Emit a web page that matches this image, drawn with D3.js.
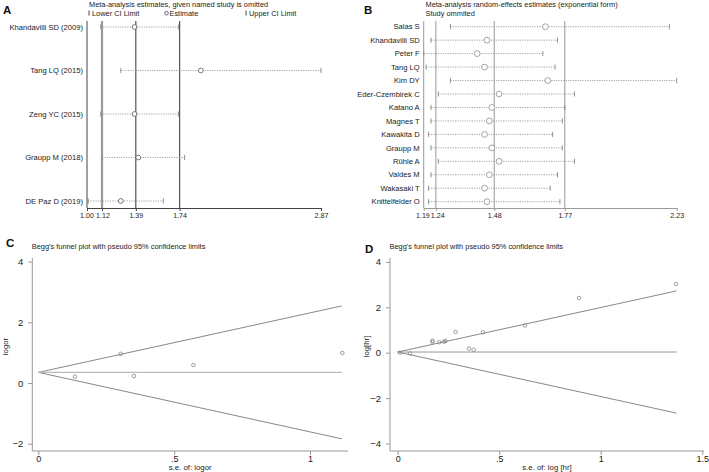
<!DOCTYPE html>
<html>
<head>
<meta charset="utf-8">
<script src="https://cdn.jsdelivr.net/npm/d3@7"></script>
<style>
  html, body { margin: 0; padding: 0; background: #fff; }
  svg { display: block; font-family: "Liberation Sans", Arial, sans-serif; }
</style>
</head>
<body>
<div id="chart"></div>
<script>
// ---- panel A: leave-one-out, given named study omitted
const studiesA = ["Khandavilli SD (2009)", "Tang LQ (2015)", "Zeng YC (2015)", "Graupp M (2018)", "DE Paz D (2019)"];
const lowerA = [1.11, 1.27, 1.11, 1.12, 1.01];
const estA = [1.38, 1.91, 1.38, 1.41, 1.27];
const upperA = [1.73, 2.87, 1.73, 1.78, 1.61];
const refA = [1.12, 1.39, 1.74];
const ticksA = [1.00, 1.12, 1.39, 1.74, 2.87];

// ---- panel B: random-effects, study omitted
const studiesB = ["Salas S", "Khandavilli SD", "Peter F", "Tang LQ", "Kim DY", "Eder-Czembirek C", "Katano A",
  "Magnes T", "Kawakita D", "Graupp M", "Rühle A", "Valdes M", "Wakasaki T", "Knittelfelder O"];
const lowerB = [1.30, 1.22, 1.19, 1.20, 1.30, 1.25, 1.22, 1.22, 1.21, 1.22, 1.25, 1.22, 1.21, 1.21];
const estB = [1.69, 1.45, 1.41, 1.44, 1.70, 1.50, 1.47, 1.46, 1.44, 1.47, 1.50, 1.46, 1.44, 1.45];
const upperB = [2.20, 1.74, 1.68, 1.73, 2.23, 1.81, 1.77, 1.76, 1.72, 1.76, 1.81, 1.74, 1.71, 1.75];
const refB = [1.24, 1.48, 1.77];
const ticksB = [1.19, 1.24, 1.48, 1.77, 2.23];

// ---- panel C: Begg's funnel, logor
const seC = [0.135, 0.303, 0.352, 0.571, 1.119];
const logorC = [0.21, 0.96, 0.23, 0.59, 0.99];
const pooledC = 0.35;
const maxSeC = 1.117;

// ---- panel D: Begg's funnel, log[hr]
const seD = [0.011, 0.061, 0.171, 0.171, 0.205, 0.228, 0.235, 0.285, 0.351, 0.374, 0.42, 0.627, 0.893, 1.371];
const loghrD = [0.0, -0.03, 0.53, 0.48, 0.46, 0.49, 0.51, 0.92, 0.18, 0.13, 0.9, 1.2, 2.41, 3.03];
const pooledD = 0.03;
const maxSeD = 1.374;

const yTicksC = [-2, 0, 2, 4];
const xTicksC = [0, 0.5, 1];
const yTicksD = [-4, -2, 0, 2, 4];
const xTicksD = [0, 0.5, 1, 1.5];

const W = 709, H = 472;
const svg = d3.select("#chart").append("svg").attr("width", W).attr("height", H);

const txt = "#1a1a1a";
const fmtSe = d => d === 0 ? "0" : (d < 1 ? d3.format(".1f")(d).replace(/^0/, "") : d3.format("")(d));

function panelLetter(x, y, s) {
  svg.append("text").attr("x", x).attr("y", y).attr("font-size", 11.5).attr("font-weight", "bold")
    .attr("fill", "#111").text(s);
}

// Leave-one-out panel (A and B)
function influencePanel(o) {
  const g = svg.append("g");
  const x = d3.scaleLinear().domain(o.domain).range(o.xr);
  const y = d3.scalePoint().domain(o.studies).range(o.yr);

  // reference lines
  g.selectAll("line.ref").data(o.ref).join("line")
    .attr("x1", d => x(d)).attr("x2", d => x(d))
    .attr("y1", o.top).attr("y2", o.bottom)
    .attr("stroke", (d, i) => o.refColor[i]).attr("stroke-width", (d, i) => o.refWidth[i]);

  // CI lines
  const rows = o.studies.map((s, i) => ({ s, lo: o.lower[i], est: o.est[i], hi: o.upper[i] }));
  g.selectAll("line.ci").data(rows).join("line")
    .attr("x1", d => x(d.lo)).attr("x2", d => x(d.hi))
    .attr("y1", d => y(d.s)).attr("y2", d => y(d.s))
    .attr("stroke", "#999").attr("stroke-width", 0.9).attr("stroke-dasharray", "1.2,1.2");
  ["lo", "hi"].forEach(k => {
    g.selectAll("line.end" + k).data(rows).join("line")
      .attr("x1", d => x(d[k])).attr("x2", d => x(d[k]))
      .attr("y1", d => y(d.s) - o.capH).attr("y2", d => y(d.s) + o.capH)
      .attr("stroke", "#888").attr("stroke-width", 0.9);
  });
  g.selectAll("circle").data(rows).join("circle")
    .attr("cx", d => x(d.est)).attr("cy", d => y(d.s)).attr("r", o.r)
    .attr("fill", "#fff").attr("stroke", o.circColor).attr("stroke-width", 0.9);

  // study labels
  g.selectAll("text.lab").data(o.studies).join("text")
    .attr("x", x(o.domain[0]) - 4).attr("y", d => y(d)).attr("dy", "0.35em")
    .attr("text-anchor", "end").attr("font-size", 7.6).attr("fill", txt).text(d => d);

  // axes
  g.append("line").attr("x1", x(o.domain[0])).attr("x2", x(o.domain[0]))
    .attr("y1", o.top).attr("y2", o.bottom).attr("stroke", o.axisColor).attr("stroke-width", 1);
  const ax = g.append("g").attr("transform", `translate(0,${o.bottom})`)
    .call(d3.axisBottom(x).tickValues(o.ticks).tickFormat(d3.format(".2f")).tickSize(3).tickSizeOuter(0));
  ax.select(".domain").attr("stroke", o.axisColor);
  ax.selectAll(".tick line").attr("stroke", o.axisColor);
  // first two ticks sit close together; nudge their labels apart a little
  ax.selectAll(".tick text").attr("font-size", 7.1).attr("fill", txt).attr("font-family", null).attr("dy", "0.6em")
    .attr("dx", (d, i) => i === 0 ? -o.nudge : (i === 1 ? o.nudge : 0));
  return { x, y };
}

// ---- A
panelLetter(3, 14, "A");
svg.append("text").attr("x", 89).attr("y", 6.5).attr("font-size", 7.4).attr("fill", txt)
  .text("Meta-analysis estimates, given named study is omitted");
const legendA = svg.append("g").attr("font-size", 7.4).attr("fill", txt);
legendA.append("line").attr("x1", 89).attr("x2", 89).attr("y1", 10.5).attr("y2", 15.5).attr("stroke", "#444");
legendA.append("text").attr("x", 92).attr("y", 16).text("Lower CI Limit");
legendA.append("circle").attr("cx", 166.5).attr("cy", 13.2).attr("r", 1.8).attr("fill", "none").attr("stroke", "#444").attr("stroke-width", 0.8);
legendA.append("text").attr("x", 169.5).attr("y", 16).text("Estimate");
legendA.append("line").attr("x1", 246).attr("x2", 246).attr("y1", 10.5).attr("y2", 15.5).attr("stroke", "#444");
legendA.append("text").attr("x", 249).attr("y", 16).text("Upper CI Limit");

influencePanel({
  studies: studiesA, lower: lowerA, est: estA, upper: upperA, ref: refA, ticks: ticksA,
  domain: [1.00, 2.87], xr: [87, 321], yr: [27, 201], top: 21, bottom: 208,
  refColor: ["#9a9a9a", "#555", "#555"], refWidth: [2.2, 1.2, 1.2],
  capH: 2.6, r: 2.4, circColor: "#666", axisColor: "#444", nudge: 0.5
});

// ---- B
panelLetter(364, 14, "B");
svg.append("text").attr("x", 425.5).attr("y", 6.5).attr("font-size", 7.4).attr("fill", txt)
  .text("Meta-analysis random-effects estimates (exponential form)");
svg.append("text").attr("x", 425.5).attr("y", 16).attr("font-size", 7.4).attr("fill", txt)
  .text("Study ommited");

influencePanel({
  studies: studiesB, lower: lowerB, est: estB, upper: upperB, ref: refB, ticks: ticksB,
  domain: [1.19, 2.23], xr: [423.7, 676.7], yr: [26.7, 201.7], top: 21, bottom: 208,
  refColor: ["#999", "#999", "#999"], refWidth: [1, 1, 1],
  capH: 2.6, r: 2.9, circColor: "#999", axisColor: "#999", nudge: 1.3
});

// Funnel panel (C and D)
function funnelPanel(o) {
  const g = svg.append("g");
  const x = d3.scaleLinear().domain([0, 1]).range(o.xr);
  const y = d3.scaleLinear().domain([0, 2]).range(o.yr);

  // funnel and pooled line
  const lim = [[0, o.pooled], [o.maxSe, o.pooled + 1.96 * o.maxSe]];
  const limL = [[0, o.pooled], [o.maxSe, o.pooled - 1.96 * o.maxSe]];
  const line = d3.line().x(d => x(d[0])).y(d => y(d[1]));
  g.append("path").attr("d", line(lim)).attr("fill", "none").attr("stroke", "#888").attr("stroke-width", 1);
  g.append("path").attr("d", line(limL)).attr("fill", "none").attr("stroke", "#888").attr("stroke-width", 1);
  g.append("path").attr("d", line([[0, o.pooled], [o.maxSe, o.pooled]]))
    .attr("fill", "none").attr("stroke", o.midColor).attr("stroke-width", o.midWidth);

  const pts = o.se.map((s, i) => ({ s, v: o.val[i] }));
  g.selectAll("circle").data(pts).join("circle")
    .attr("cx", d => x(d.s)).attr("cy", d => y(d.v)).attr("r", 1.8)
    .attr("fill", "none").attr("stroke", "#888").attr("stroke-width", 0.8);

  // axes
  const ay = g.append("g").attr("transform", `translate(${o.axisX},0)`)
    .call(d3.axisLeft(y).tickValues(o.yTicks).tickFormat(d => d < 0 ? "\u2212" + Math.abs(d) : d).tickSize(4).tickSizeOuter(0));
  ay.select(".domain").attr("d", `M0,${o.axisTop}V${o.axisY}`).attr("stroke", "#999");
  ay.selectAll(".tick line").attr("stroke", "#999");
  ay.selectAll(".tick text").attr("font-size", 9.5).attr("fill", txt).attr("font-family", null).attr("dx", "-0.2em");

  const axx = g.append("g").attr("transform", `translate(0,${o.axisY})`)
    .call(d3.axisBottom(x).tickValues(o.xTicks).tickFormat(fmtSe).tickSize(4).tickSizeOuter(0));
  axx.select(".domain").attr("d", `M${o.axisX},0H${o.axisRight}`).attr("stroke", "#999");
  axx.selectAll(".tick line").attr("stroke", "#999");
  axx.selectAll(".tick text").attr("font-size", 9).attr("fill", txt).attr("font-family", null)
    .attr("y", 5).attr("dy", "0.7em");

  g.append("text").attr("x", (o.axisX + o.axisRight) / 2).attr("y", o.axisY + 19)
    .attr("text-anchor", "middle").attr("font-size", 7.8).attr("fill", txt).text(o.xTitle);
  g.append("text").attr("transform", `translate(${o.yTitleX},${(o.axisTop + o.axisY) / 2 - 8}) rotate(-90)`)
    .attr("text-anchor", "middle").attr("font-size", 7.8).attr("fill", txt).text(o.yTitle);
  g.append("text").attr("x", o.axisX - 0.5).attr("y", o.titleY).attr("font-size", 7.4).attr("fill", txt)
    .text("Begg's funnel plot with pseudo 95% confidence limits");
}

// ---- C
panelLetter(6, 247, "C");
funnelPanel({
  se: seC, val: logorC, pooled: pooledC, maxSe: maxSeC,
  xr: [38.3, 310], yr: [383, 322.3], axisX: 32.3, axisY: 451, axisTop: 258, axisRight: 348,
  yTicks: yTicksC, xTicks: xTicksC, midColor: "#bbb", midWidth: 1.4,
  xTitle: "s.e. of: logor", yTitle: "logor", yTitleX: 8, titleY: 249
});

// ---- D
panelLetter(365, 253, "D");
funnelPanel({
  se: seD, val: loghrD, pooled: pooledD, maxSe: maxSeD,
  xr: [397.7, 600.7], yr: [352.7, 307.3], axisX: 390, axisY: 451, axisTop: 258, axisRight: 704,
  yTicks: yTicksD, xTicks: xTicksD, midColor: "#999", midWidth: 1,
  xTitle: "s.e. of: log [hr]", yTitle: "log[hr]", yTitleX: 369, titleY: 249
});
</script>
</body>
</html>
